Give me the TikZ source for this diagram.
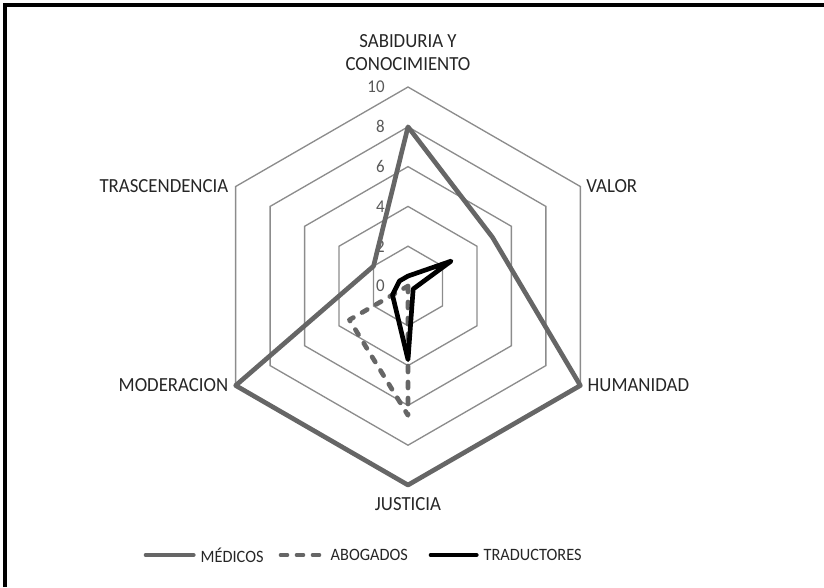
\documentclass[tikz,border=0pt]{standalone}
\usepackage{fontspec}
\setmainfont{Carlito}[FakeStretch=0.94]

\begin{document}
\begin{tikzpicture}[x=0.75pt, y=0.75pt,
        grid/.style={draw=black!45, line width=1pt},
        label/.style={font=\fontsize{15}{17}\selectfont, text=black!85},
        legend/.style={font=\fontsize{13}{15}\selectfont, text=black!85, anchor=west},
        tick/.style={font=\fontsize{13.5}{16}\selectfont, text=black!65, anchor=east, xshift=-14pt},
        medicos/.style={draw=black!60, line width=3.5pt, line join=round},
        abogados/.style={medicos, line cap=round, dash pattern=on 4.5pt off 7.5pt},
        traductores/.style={draw=black, line width=3.5pt, line join=round}]
        \useasboundingbox (-408,-301) rectangle (416,286);
        \draw[line width=2.5pt] (-403,-301) -- (-403,281) -- (416,281);
        \coordinate (c) at (0,0);
        \foreach \r in {2,4,...,10}
            \draw[grid] (90:{\r*19.9}) -- (30:{\r*19.9}) -- (-30:{\r*19.9}) -- (-90:{\r*19.9}) -- (210:{\r*19.9}) -- (150:{\r*19.9}) -- cycle;
        \foreach \r in {0,2,...,10}
            \node[tick] (t\r) at (90:{\r*19.9}) {\r};
        \coordinate (sab) at (90:199);
        \coordinate (val) at (30:199);
        \coordinate (hum) at (-30:199);
        \coordinate (jus) at (-90:199);
        \coordinate (mod) at (210:199);
        \coordinate (tra) at (150:199);
        \node[label, align=center, anchor=south] (lsab) at ([yshift=9pt]sab) {SABIDURIA Y\\CONOCIMIENTO};
        \node[label, anchor=west] (lval) at ([xshift=1pt]val) {VALOR};
        \node[label, anchor=west] (lhum) at ([xshift=2pt]hum) {HUMANIDAD};
        \node[label, anchor=north] (ljus) at ([yshift=-6pt]jus) {JUSTICIA};
        \node[label, anchor=east] (lmod) at ([xshift=-2pt]mod) {MODERACION};
        \node[label, anchor=east] (ltra) at ([xshift=-2pt]tra) {TRASCENDENCIA};
        \draw[medicos] (90:{8*19.9}) -- (30:{4.9*19.9}) -- (-30:{10*19.9}) -- (-90:{10*19.9}) -- (210:{10*19.9}) -- (150:{2*19.9}) -- cycle;
        \draw[abogados] (90:0) -- (30:0) -- (-30:0) -- (-90:{6.5*19.9}) -- (210:{3.4*19.9}) -- (150:0) -- cycle;
        \draw[traductores] (90:{0.5*19.9}) -- (30:{2.5*19.9}) -- (-30:{0.3*19.9}) -- (-90:{3.7*19.9}) -- (210:{0.9*19.9}) -- (150:{0.5*19.9}) -- cycle;
        \node[legend] (lmed) at (-212,-269) {MÉDICOS};
        \node[legend] (labo) at (-82,-269) {ABOGADOS};
        \node[legend] (ltrad) at (71,-269) {TRADUCTORES};
        \coordinate (smed) at (-262,-269);
        \coordinate (sabo) at (-127,-269);
        \coordinate (strad) at (23,-269);
        \draw[medicos, line cap=round] (smed) -- ([xshift=-2pt]lmed.west);
        \draw[abogados] (sabo) -- ([xshift=-2pt]labo.west);
        \draw[traductores, line cap=round] (strad) -- ([xshift=-2pt]ltrad.west);
\end{tikzpicture}
\end{document}
